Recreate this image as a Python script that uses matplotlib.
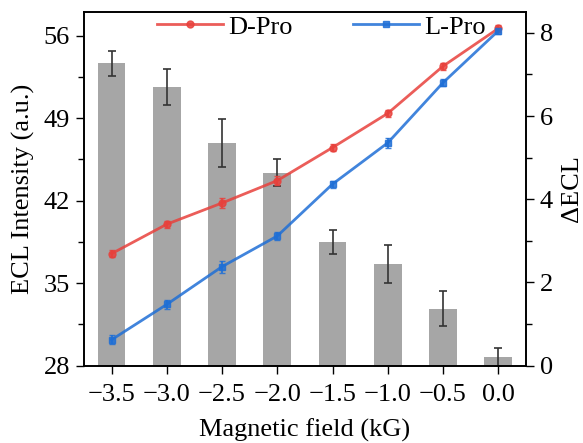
import numpy as np
import matplotlib.pyplot as plt

plt.rcParams['font.family'] = ['Liberation Serif', 'DejaVu Serif']

# magnetic field (kG)
field = [-3.5, -3.0, -2.5, -2.0, -1.5, -1.0, -0.5, 0.0]

# ECL intensity for the two enantiomers
d_pro = [37.5, 40.0, 41.8, 43.7, 46.5, 49.4, 53.4, 56.6]
d_err = [0.3, 0.3, 0.4, 0.4, 0.3, 0.3, 0.3, 0.3]
l_pro = [30.2, 33.2, 36.4, 39.0, 43.4, 46.9, 52.0, 56.4]
l_err = [0.4, 0.4, 0.5, 0.3, 0.3, 0.4, 0.3, 0.3]

# difference between the two
d_ecl = [7.27, 6.70, 5.35, 4.64, 2.98, 2.44, 1.37, 0.20]
d_ecl_err = [0.30, 0.43, 0.58, 0.32, 0.29, 0.45, 0.42, 0.23]

red = '#e8413c'
blue = '#1f6fd6'

fig = plt.figure(figsize=(5.83, 4.43), dpi=100)
ax = fig.add_axes([0.144, 0.1745, 0.758, 0.7985])
ax2 = ax.twinx()

ax2.bar(field, d_ecl, width=0.25, color='#a6a6a6', zorder=1)
ax2.errorbar(field, d_ecl, yerr=d_ecl_err, fmt='none', ecolor='#333333',
             elinewidth=1.2, capsize=3, capthick=1.2, zorder=2)

# lines on top of the bars
ax.set_zorder(ax2.get_zorder() + 1)
ax.patch.set_visible(False)

ax.errorbar(field, d_pro, yerr=d_err, fmt='none', ecolor=red, elinewidth=1.5,
            capsize=2.5, alpha=0.85)
ax.errorbar(field, l_pro, yerr=l_err, fmt='none', ecolor=blue, elinewidth=1.5,
            capsize=2.5, alpha=0.85)
ax.plot(field, d_pro, color=red, lw=2, marker='o', ms=5, label='D-Pro',
        alpha=0.85)
ax.plot(field, l_pro, color=blue, lw=2, marker='s', ms=5, label='L-Pro',
        alpha=0.85)

ax.set_xlim(-3.75, 0.25)
ax.set_ylim(28, 58)
ax2.set_ylim(0, 8.5)

ax.set_xticks(field)
ax.set_xticklabels(['\u22123.5', '\u22123.0', '\u22122.5', '\u22122.0',
                    '\u22121.5', '\u22121.0', '\u22120.5', '0.0'])
ax.set_yticks([28, 35, 42, 49, 56])
ax.set_yticks([31.5, 38.5, 45.5, 52.5], minor=True)
ax2.set_yticks([0, 2, 4, 6, 8])
ax2.set_yticks([1, 3, 5, 7], minor=True)

for a in (ax, ax2):
    a.tick_params(axis='both', which='major', labelsize=19, length=6,
                  width=1, direction='out', pad=4)
    a.tick_params(axis='both', which='minor', length=4, width=1,
                  direction='out')
    for s in a.spines.values():
        s.set_linewidth(1.2)
ax.tick_params(axis='x', pad=7)

ax.set_xlabel('Magnetic field (kG)', fontsize=19, labelpad=9)
ax.set_ylabel('ECL Intensity (a.u.)', fontsize=19, labelpad=6)
ax2.set_ylabel('\u0394ECL', fontsize=19, labelpad=6)

ax.legend(loc='center left', bbox_to_anchor=(0.165, 0.958), ncol=2,
          frameon=False, fontsize=19, handlelength=2.5, columnspacing=2.3,
          handletextpad=0.2, borderaxespad=0, borderpad=0)

fig.savefig('out.png', dpi=100)
